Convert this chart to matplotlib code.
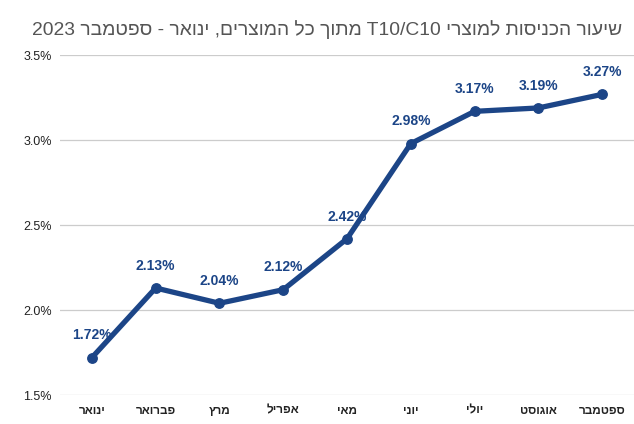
import re
import matplotlib
matplotlib.use("Agg")
import matplotlib.pyplot as plt

plt.rcParams['font.family'] = ['Liberation Sans', 'DejaVu Sans']

title = "שיעור הכניסות למוצרי T10/C10 מתוך כל המוצרים, ינואר - ספטמבר 2023"
months = ["ינואר", "פברואר", "מרץ", "אפריל", "מאי", "יוני", "יולי", "אוגוסט", "ספטמבר"]
values = [1.72, 2.13, 2.04, 2.12, 2.42, 2.98, 3.17, 3.19, 3.27]
yticks = [1.5, 2.0, 2.5, 3.0, 3.5]


def vis(s):
    """Convert logical RTL text to visual order for LTR renderer."""
    r = s[::-1]
    return re.sub(r'[A-Za-z0-9/.%]+', lambda m: m.group(0)[::-1], r)


color = "#1c4587"
fig = plt.figure(figsize=(6.34, 4.24), dpi=100)
ax = fig.add_axes([60 / 634, 1 - 395 / 424, 1 - 60 / 634, (395 - 55.3) / 424])

x = list(range(len(months)))
ax.plot(x, values, color=color, lw=3.8, marker='o', ms=6.8, solid_capstyle='round',
        zorder=3)
for xi, v in zip(x, values):
    ax.annotate(f"{v:.2f}%", (xi, v), xytext=(0, 16), textcoords='offset points',
                ha='center', va='center', fontsize=10, fontweight='bold', color=color,
                zorder=4)

ax.set_xlim(-0.5, len(months) - 0.5)
ax.set_ylim(1.5, 3.5)
ax.set_yticks(yticks)
ax.set_yticklabels([f"{t:.1f}%" for t in yticks], fontsize=9, color="#222222")
ax.set_xticks(x)
ax.set_xticklabels([vis(m) for m in months], fontsize=8.5, fontweight='bold',
                   color="#222222")
ax.tick_params(axis='both', length=0)
ax.tick_params(axis='y', pad=6)
ax.tick_params(axis='x', pad=7)
for s in ax.spines.values():
    s.set_visible(False)
ax.grid(axis='y', color="#cccccc", lw=0.9)
ax.set_axisbelow(True)

fig.text(622 / 634, 1 - 30 / 424, vis(title), ha='right', va='center', fontsize=13.9,
         color="#555555")

fig.savefig("out.png", dpi=100)
